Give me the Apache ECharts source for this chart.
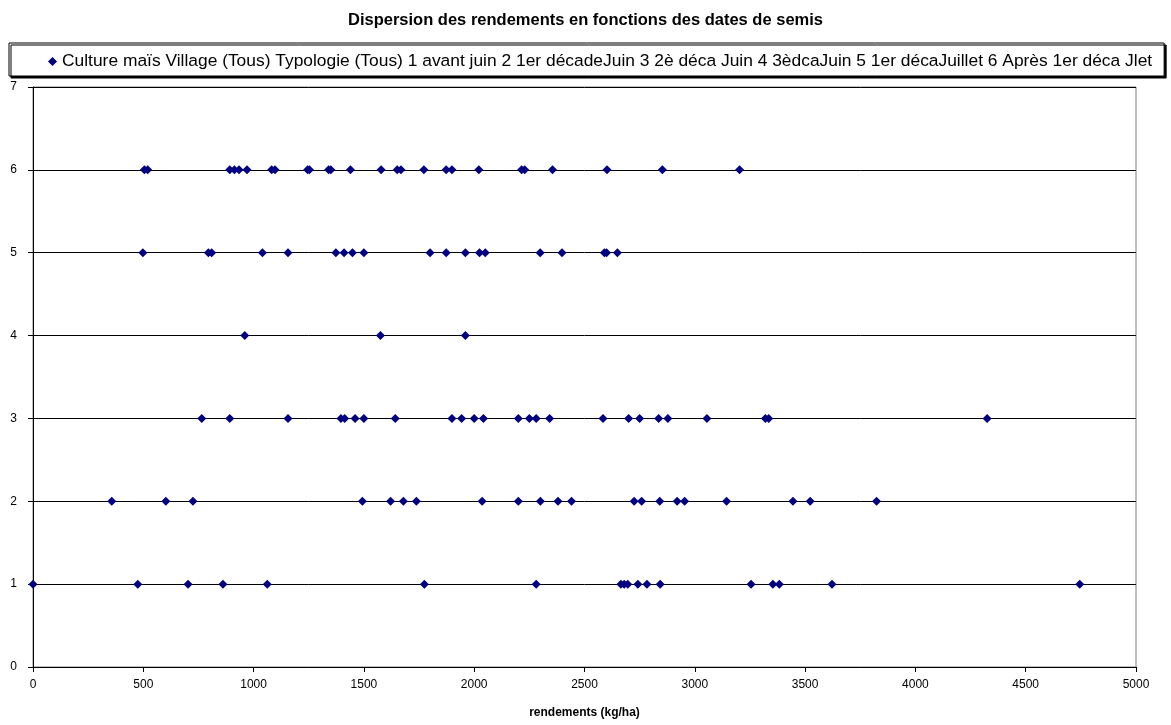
<!DOCTYPE html>
<html>
<head>
<meta charset="utf-8">
<script src="https://cdn.jsdelivr.net/npm/echarts@6/dist/echarts.min.js"></script>
<style>
  html, body { margin: 0; padding: 0; background: #fff; }
  #chart { width: 1171px; height: 725px; }
</style>
</head>
<body>
<div id="chart"></div>
<script>
// Yields (kg/ha) for each sowing-date class
const semis1 = [0, 475, 703, 861, 1062, 1774, 2281, 2665, 2680, 2696, 2742, 2783, 2843, 3255, 3354, 3383, 3622, 4745];
const semis2 = [357, 602, 725, 1493, 1621, 1679, 1738, 2036, 2200, 2300, 2380, 2441, 2725, 2759, 2841, 2920, 2954, 3144, 3445, 3523, 3824];
const semis3 = [765, 892, 1156, 1396, 1413, 1460, 1500, 1642, 1899, 1943, 2000, 2042, 2200, 2250, 2281, 2342, 2584, 2700, 2750, 2836, 2878, 3055, 3320, 3335, 4325];
const semis4 = [960, 1575, 1960];
const semis5 = [498, 795, 810, 1040, 1156, 1373, 1410, 1448, 1500, 1800, 1873, 1960, 2024, 2050, 2299, 2398, 2590, 2600, 2649];
const semis6 = [505, 520, 892, 913, 934, 970, 1082, 1097, 1245, 1253, 1340, 1350, 1439, 1578, 1651, 1668, 1772, 1873, 1899, 2021, 2215, 2229, 2355, 2602, 2853, 3203];

const rows = [semis1, semis2, semis3, semis4, semis5, semis6];
const classes = [1, 2, 3, 4, 5, 6];

const seriesName = 'Culture maïs Village (Tous) Typologie (Tous) 1 avant juin 2 1er décadeJuin 3 2è déca Juin 4 3èdcaJuin 5 1er décaJuillet 6 Après 1er déca Jlet';
const chartTitle = 'Dispersion des rendements en fonctions des dates de semis';
const xAxisName = 'rendements (kg/ha)';

const points = [];
rows.forEach((vals, i) => vals.forEach(v => points.push([v, classes[i]])));

const chart = echarts.init(document.getElementById('chart'), null, { renderer: 'canvas' });
const font = 'Arial, "Liberation Sans", sans-serif';

chart.setOption({
  animation: false,
  backgroundColor: '#ffffff',
  title: {
    text: chartTitle,
    left: 'center',
    top: 7,
    textStyle: { fontFamily: font, fontSize: 16.5, fontWeight: 'bold', color: '#000' }
  },
  legend: {
    left: 9,
    top: 43,
    padding: [10, 12, 6, 39],
    itemWidth: 9,
    itemHeight: 9,
    itemGap: 4,
    icon: 'diamond',
    borderColor: '#000',
    borderWidth: 1,
    backgroundColor: '#fff',
    shadowColor: '#000',
    shadowOffsetX: 2,
    shadowOffsetY: 2,
    shadowBlur: 0,
    textStyle: { fontFamily: font, fontSize: 17.4, color: '#000', padding: [0, 0, 0, 0] },
    data: [seriesName]
  },
  grid: { left: 33, right: 35, top: 87, bottom: 58, containLabel: false, show: true, borderColor: '#808080', borderWidth: 1 },
  xAxis: {
    type: 'value',
    min: 0, max: 5000, interval: 500,
    name: xAxisName,
    nameLocation: 'middle',
    nameGap: 40,
    nameTextStyle: { fontFamily: font, fontSize: 12, fontWeight: 'bold', color: '#000' },
    axisLine: { show: true, onZero: false, lineStyle: { color: '#000', width: 1 } },
    axisTick: { show: true, length: 5, lineStyle: { color: '#000' } },
    axisLabel: { fontFamily: font, fontSize: 12, color: '#000', margin: 12, formatter: v => String(v) },
    splitLine: { show: false }
  },
  yAxis: {
    type: 'value',
    min: 0, max: 7, interval: 1,
    axisLine: { show: true, lineStyle: { color: '#000', width: 1 } },
    axisTick: { show: true, length: 5, lineStyle: { color: '#000' } },
    axisLabel: { fontFamily: font, fontSize: 12, color: '#000', margin: 16 },
    splitLine: { show: true, lineStyle: { color: '#000', width: 1 } }
  },
  series: [{
    name: seriesName,
    type: 'scatter',
    symbol: 'diamond',
    symbolSize: 9,
    itemStyle: { color: '#000080', opacity: 1 },
    data: points
  }]
});
</script>
</body>
</html>
